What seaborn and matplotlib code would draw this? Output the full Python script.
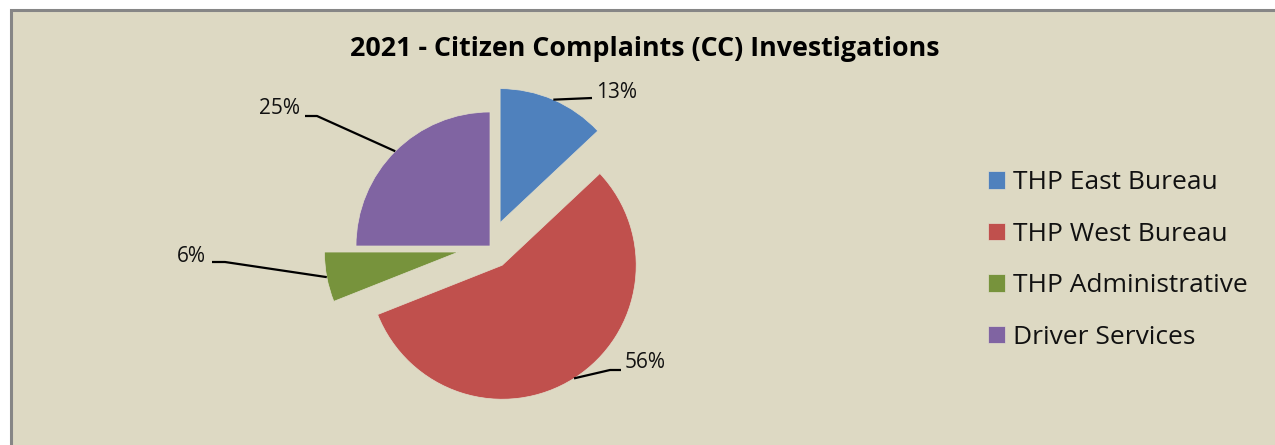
import numpy as np
import matplotlib.pyplot as plt
import seaborn as sns
from matplotlib.patches import Rectangle

# ── data ─────────────────────────────────────────────
categories = ["THP East Bureau", "THP West Bureau", "THP Administrative", "Driver Services"]
shares = [13, 56, 6, 25]
explode = [0.19, 0.17, 0.24, 0.0]   # fraction of radius
colors = ["#4F81BD", "#C0504D", "#77933C", "#8064A2"]
title = "2021 - Citizen Complaints (CC) Investigations"

# label layout in image pixels (x, y from top): elbow of leader line, line end, text anchor
elbows = [(592, 98), (610, 370), (225, 262), (317, 116)]
line_ends = [(592, 98), (621, 370), (212, 262), (305, 116)]
text_pos = [(596, 92), (625, 362), (206, 256), (300, 109)]
text_ha = ["left", "left", "right", "right"]

W, H = 1275, 445
BG = "#DDD9C3"

sns.set_style("white")
plt.rcParams["font.family"] = ["Open Sans", "DejaVu Sans"]

fig = plt.figure(figsize=(W / 100, H / 100), dpi=100, facecolor="white")
ax = fig.add_axes([0, 0, 1, 1])
ax.set_facecolor(BG)

# chart area border (the right/bottom edges run off the image)
ax.add_patch(Rectangle((10.5, -20), W + 20, H - 9.5 + 20, facecolor=BG,
                       edgecolor="#868686", linewidth=2.2, zorder=0))

cx, cy, r = 490, H - 246, 134
# matplotlib offsets exploded wedges in data units, so scale by the radius
wedges, _ = ax.pie(shares, explode=[e * r for e in explode], colors=colors,
                   startangle=90, counterclock=False, radius=r, center=(cx, cy),
                   wedgeprops=dict(linewidth=0.5, edgecolor="#E2DECB"))

total = sum(shares)
for w, v, el, le, tp, ha in zip(wedges, shares, elbows, line_ends, text_pos, text_ha):
    mid = np.deg2rad((w.theta1 + w.theta2) / 2)
    d = np.array([np.cos(mid), np.sin(mid)])
    anchor = np.array(w.center) + d * r
    xs = [anchor[0], el[0], le[0]]
    ys = [anchor[1], H - el[1], H - le[1]]
    ax.plot(xs, ys, color="black", linewidth=1.6, solid_capstyle="butt")
    ax.text(tp[0], H - tp[1], f"{v / total * 100:.0f}%", ha=ha, va="center",
            fontsize=15, color="#111111")

ax.set_xlim(0, W)
ax.set_ylim(0, H)
ax.set_aspect("auto")
ax.axis("off")

fig.text(645 / W, 1 - 49 / H, title, ha="center", va="center",
         fontsize=19.3, fontweight="bold", color="black")

fig.legend(wedges, categories, loc="center left",
           bbox_to_anchor=(964 / W, 1 - 260 / H), frameon=False,
           fontsize=19, handlelength=0.64, handleheight=0.64,
           handletextpad=0.3, labelspacing=1.0, labelcolor="#111111")

fig.savefig("out.png", dpi=100, facecolor="white")
plt.close(fig)
